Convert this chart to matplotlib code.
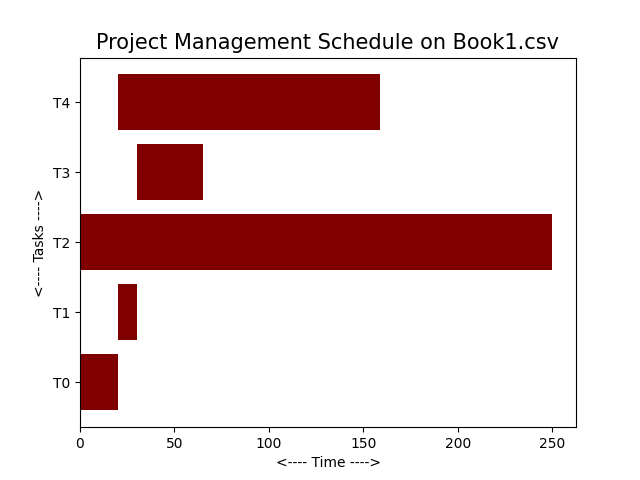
import matplotlib
matplotlib.use('Agg')
import matplotlib.pyplot as plt

tasks = ['T0', 'T1', 'T2', 'T3', 'T4']
start_times = [0, 20, 0, 30, 20]
durations = [20, 10, 250, 35, 139]


def main():
    fig, ax = plt.subplots(figsize=(6.4, 4.8), dpi=100)

    ax.barh(tasks, durations, left=start_times, color='maroon')

    ax.set_title('Project Management Schedule on Book1.csv', fontsize=15)
    ax.set_xlabel('<---- Time ---->')
    ax.set_ylabel('<---- Tasks ---->')

    fig.savefig('out.png')
    plt.close(fig)
    return


if __name__ == '__main__':
    main()
